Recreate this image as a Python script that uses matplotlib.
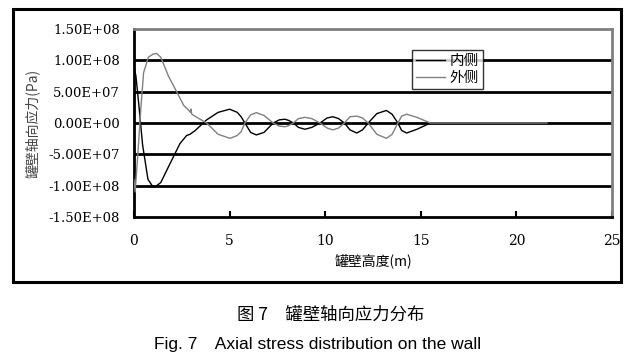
import numpy as np
import matplotlib.pyplot as plt
from matplotlib.patches import Rectangle

# tank wall height (m) and axial stress (Pa)
x_in = [0, 0.1, 0.25, 0.45, 0.73, 0.95, 1.1, 1.4, 1.8, 2.4, 2.75, 2.93, 3.2, 3.8,
        4.4, 5.0, 5.4, 5.6, 5.8, 6.1, 6.4, 6.8, 7.28, 7.6, 7.9, 8.1, 8.33, 8.6,
        8.94, 9.3, 9.73, 10.1, 10.4, 10.7, 11.0, 11.3, 11.65, 11.95, 12.25, 12.7,
        13.2, 13.5, 13.8, 14.0, 14.26, 14.8, 15.5]
y_in = [9.0, 7.5, 3.0, -3.5, -9.0, -10.0, -10.2, -9.5, -7.0, -3.3, -2.0, -1.8, -1.2, 0.5,
        1.7, 2.2, 1.7, 1.0, 0.0, -1.5, -1.9, -1.5, 0.0, 0.5, 0.6, 0.4, 0.0, -0.7,
        -1.0, -0.7, 0.0, 0.8, 1.0, 0.7, 0.0, -1.1, -1.6, -1.1, 0.0, 1.5,
        2.0, 1.4, 0.0, -1.2, -1.6, -1.0, 0.0]

x_out = [0, 0.06, 0.2, 0.35, 0.5, 0.75, 1.0, 1.18, 1.4, 1.8, 2.23, 2.6, 2.84, 2.95,
         2.98, 3.02, 3.4, 3.8, 4.4, 5.02, 5.4, 5.6, 5.8, 6.1, 6.4, 6.8, 7.28, 7.6,
         7.9, 8.1, 8.33, 8.6, 8.94, 9.3, 9.73, 10.1, 10.4, 10.7, 11.0, 11.3, 11.65,
         11.95, 12.25, 12.7, 13.2, 13.5, 13.8, 14.0, 14.26, 14.8, 15.5, 21.6]
y_out = [-9.0, -11.0, -5.0, 2.0, 8.0, 10.5, 11.0, 11.1, 10.5, 7.5, 5.0, 2.8, 2.1, 1.7,
         2.2, 1.4, 0.7, 0.0, -1.8, -2.45, -2.0, -1.4, 0.0, 1.3, 1.65, 1.2, 0.0, -0.5,
         -0.6, -0.4, 0.0, 0.7, 0.9, 0.7, 0.0, -0.8, -1.1, -0.8, 0.0, 1.0, 1.1,
         0.8, 0.0, -1.8, -2.45, -1.8, 0.0, 1.1, 1.4, 0.9, 0.0, 0.0]

y_ticks = [-1.5e8, -1.0e8, -5.0e7, 0, 5.0e7, 1.0e8, 1.5e8]
y_labels = ['-1.50E+08', '-1.00E+08', '-5.00E+07', '0.00E+00',
            '5.00E+07', '1.00E+08', '1.50E+08']
x_ticks = [0, 5, 10, 15, 20, 25]

cjk = ['Noto Sans CJK SC', 'DejaVu Sans']
serif = 'DejaVu Serif'

fig = plt.figure(figsize=(6.27, 3.6), dpi=100)
fig.patches.append(Rectangle((13 / 627, 1 - 282 / 360), 608 / 627, 273 / 360,
                             transform=fig.transFigure, fill=False,
                             edgecolor='black', linewidth=2.2))

ax = fig.add_axes([134 / 627, 1 - 217 / 360, 478 / 627, 188 / 360])
for yv in [-1.0e8, -5.0e7, 0, 5.0e7, 1.0e8]:
    ax.axhline(yv, color='black', linewidth=2, zorder=1)

ax.plot(x_in, np.array(y_in) * 1e7, color='black', linewidth=1, label='内侧', zorder=3)
ax.plot(x_out, np.array(y_out) * 1e7, color='#808080', linewidth=1, label='外侧', zorder=3)

ax.set_xlim(0, 25)
ax.set_ylim(-1.5e8, 1.5e8)
ax.set_xticks(x_ticks)
ax.set_xticklabels([str(v) for v in x_ticks], fontfamily=serif, fontsize=10)
ax.set_yticks(y_ticks)
ax.set_yticklabels(y_labels, fontfamily=serif, fontsize=9.5)
ax.tick_params(axis='x', direction='in', length=4, width=1.5, pad=12)
ax.tick_params(axis='y', length=0, pad=10)

ax.spines['left'].set_linewidth(2)
ax.spines['bottom'].set_linewidth(2)
ax.spines['top'].set_color('#808080')
ax.spines['right'].set_color('#808080')
ax.spines['top'].set_linewidth(2)
ax.spines['right'].set_linewidth(2)

ax.set_xlabel('罐壁高度(m)', fontfamily=cjk, fontsize=10, labelpad=4)
ax.set_ylabel('罐壁轴向应力(Pa)', fontfamily=cjk, fontsize=10, labelpad=6, color='#444444')

leg = ax.legend(loc='upper left', bbox_to_anchor=((412 - 134) / 478, (217 - 50) / 188),
                prop={'family': cjk, 'size': 10.5}, frameon=True, fancybox=False,
                handlelength=2.0, handletextpad=0.35, borderpad=0.25, labelspacing=0.25,
                borderaxespad=0)
leg.get_frame().set_edgecolor('black')
leg.get_frame().set_linewidth(1)
leg.set_zorder(5)

fig.text(0.527, 1 - 315 / 360, '图 7\u3000罐壁轴向应力分布', ha='center', va='center',
         fontfamily=cjk, fontsize=12.5)
fig.text(0.507, 1 - 345 / 360, 'Fig. 7\u3000Axial stress distribution on the wall',
         ha='center', va='center', fontfamily=['Liberation Sans', 'Noto Sans CJK SC'],
         fontsize=12.5)

fig.savefig('out.png', dpi=100)
